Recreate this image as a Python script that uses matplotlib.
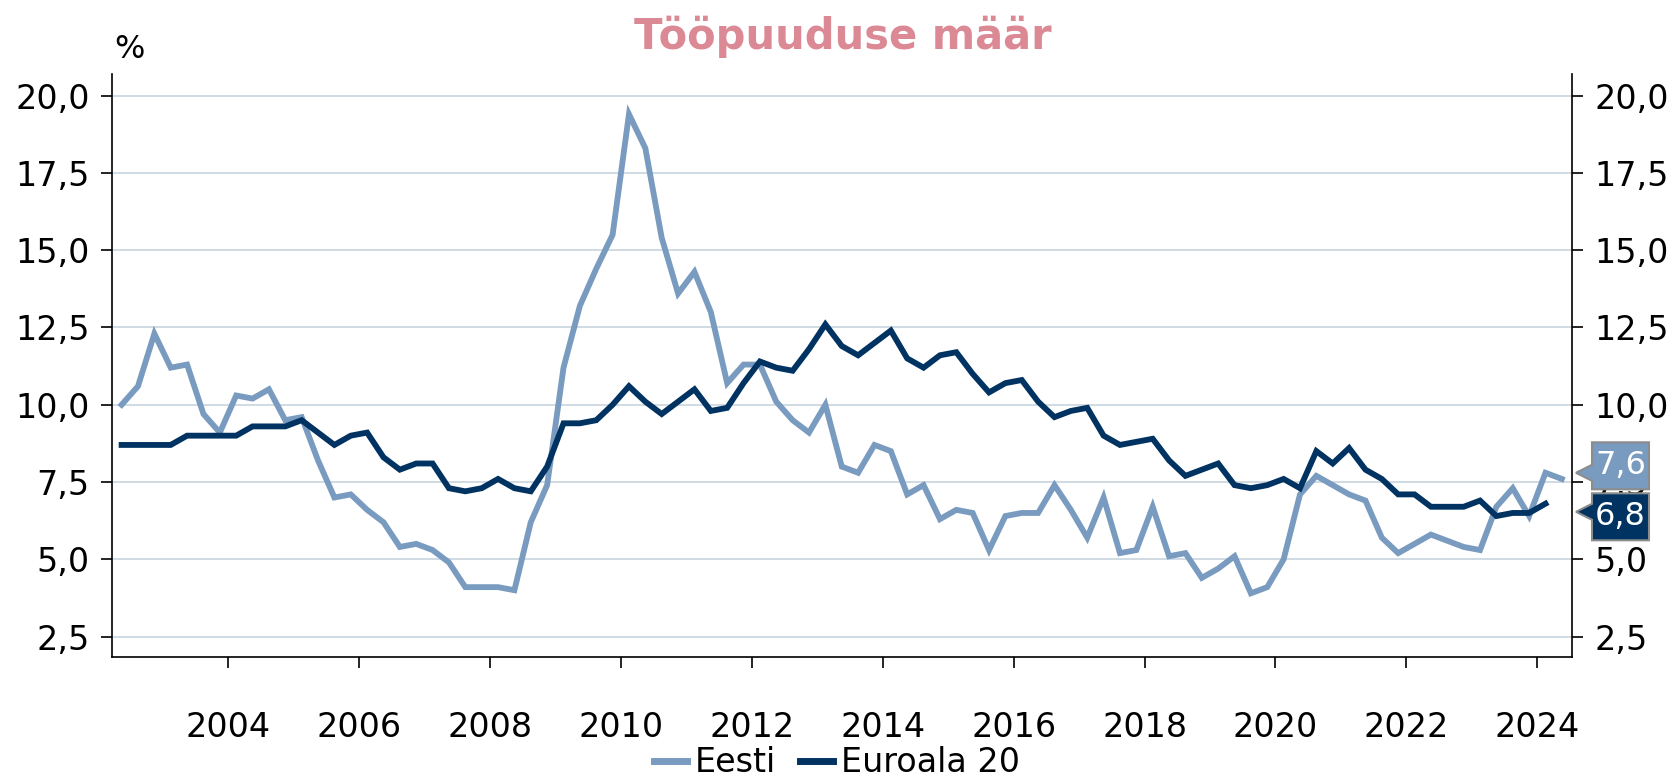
import matplotlib
matplotlib.use("Agg")
import matplotlib.pyplot as plt
from matplotlib.patches import Polygon
import numpy as np

# ---- data (quarterly, 2002Q2 .. 2024Q2) ----
eesti = [10.0, 10.6, 12.3,
         11.2, 11.3, 9.7, 9.1,
         10.3, 10.2, 10.5, 9.5,
         9.6, 8.2, 7.0, 7.1,
         6.6, 6.2, 5.4, 5.5,
         5.3, 4.9, 4.1, 4.1,
         4.1, 4.0, 6.2, 7.4,
         11.2, 13.2, 14.4, 15.5,
         19.4, 18.3, 15.4, 13.6,
         14.3, 13.0, 10.7, 11.3,
         11.3, 10.1, 9.5, 9.1,
         10.0, 8.0, 7.8, 8.7,
         8.5, 7.1, 7.4, 6.3,
         6.6, 6.5, 5.3, 6.4,
         6.5, 6.5, 7.4, 6.6,
         5.7, 7.0, 5.2, 5.3,
         6.7, 5.1, 5.2, 4.4,
         4.7, 5.1, 3.9, 4.1,
         5.0, 7.1, 7.7, 7.4,
         7.1, 6.9, 5.7, 5.2,
         5.5, 5.8, 5.6, 5.4,
         5.3, 6.7, 7.3, 6.4,
         7.8, 7.6]
euro = [8.7, 8.7, 8.7,
        8.7, 9.0, 9.0, 9.0,
        9.0, 9.3, 9.3, 9.3,
        9.5, 9.1, 8.7, 9.0,
        9.1, 8.3, 7.9, 8.1,
        8.1, 7.3, 7.2, 7.3,
        7.6, 7.3, 7.2, 8.0,
        9.4, 9.4, 9.5, 10.0,
        10.6, 10.1, 9.7, 10.1,
        10.5, 9.8, 9.9, 10.7,
        11.4, 11.2, 11.1, 11.8,
        12.6, 11.9, 11.6, 12.0,
        12.4, 11.5, 11.2, 11.6,
        11.7, 11.0, 10.4, 10.7,
        10.8, 10.1, 9.6, 9.8,
        9.9, 9.0, 8.7, 8.8,
        8.9, 8.2, 7.7, 7.9,
        8.1, 7.4, 7.3, 7.4,
        7.6, 7.3, 8.5, 8.1,
        8.6, 7.9, 7.6, 7.1,
        7.1, 6.7, 6.7, 6.7,
        6.9, 6.4, 6.5, 6.5,
        6.8]
start_year, start_q = 2002, 2
series_names = ["Eesti", "Euroala 20"]
year_ticks = list(range(2004, 2025, 2))
y_ticks = [2.5, 5.0, 7.5, 10.0, 12.5, 15.0, 17.5, 20.0]
title = "Tööpuuduse määr"

def qx(n):
    return [start_year + (start_q - 1 + i) / 4 + 0.125 for i in range(n)]

c_ee = "#7A9BC0"
c_eu = "#003262"

W, H = 1674, 777
fig = plt.figure(figsize=(W / 100, H / 100), dpi=100)
ax = fig.add_axes([112 / W, 1 - 657 / H, (1572 - 112) / W, (657 - 74) / H])

ax.plot(qx(len(eesti)), eesti, color=c_ee, lw=4.2, label=series_names[0], zorder=3,
        solid_joinstyle="miter")
ax.plot(qx(len(euro)), euro, color=c_eu, lw=4.2, label=series_names[1], zorder=4,
        solid_joinstyle="miter")

ax.set_xlim(2002.228, 2024.53)
ax.set_ylim(1.84, 20.70)
ax.set_xticks(year_ticks)
ax.set_xticklabels([str(y) for y in year_ticks])
ax.set_yticks(y_ticks)
ax.set_yticklabels([f"{v:.1f}".replace(".", ",") for v in y_ticks])
ax.grid(axis="y", color="#CBD8E0", lw=1.3, zorder=0)
ax.set_axisbelow(True)
for s in ["left", "right", "bottom"]:
    ax.spines[s].set_linewidth(1.2)
ax.spines["top"].set_visible(False)
ax.tick_params(axis="y", which="both", direction="out", length=8, width=1.2,
               labelsize=24, left=True, right=True, labelleft=True, labelright=True, pad=8)
ax.tick_params(axis="x", direction="out", length=8, width=1.2, labelsize=24, pad=31)

fig.text(0.5035, 1 - 37 / H, title, ha="center", va="center", fontsize=30,
         fontweight="bold", color="#DB8A95")
fig.text(114 / W, 1 - 50 / H, "%", ha="left", va="center", fontsize=23)

leg = fig.legend(loc="center", bbox_to_anchor=(0.5, 1 - 763 / H), ncol=2, frameon=False,
                 fontsize=24, handlelength=1.0, handletextpad=0.25, columnspacing=0.7,
                 borderpad=0)
for h in leg.get_lines():
    h.set_linewidth(5)

# end-value callouts
to_fig = ax.transData + fig.transFigure.inverted()
x_end = ax.get_xlim()[1]
p_ee = to_fig.transform((x_end, eesti[-1]))
p_eu = to_fig.transform((x_end, euro[-1]))
mid = (p_ee[1] + p_eu[1]) / 2
bh = 47 / H
gap = 4 / H
bx0 = 1592 / W
bx1 = 1649 / W
tipx = 1576 / W
for val, col, ctr, tipdy in [(eesti[-1], c_ee, mid + (bh + gap) / 2, -7 / H),
                             (euro[-1], c_eu, mid - (bh + gap) / 2, 5 / H)]:
    y0, y1 = ctr - bh / 2, ctr + bh / 2
    ty = ctr + tipdy
    pts = [(bx0, y1), (bx1, y1), (bx1, y0), (bx0, y0), (bx0, ty - 8 / H),
           (tipx, ty), (bx0, ty + 8 / H)]
    fig.add_artist(Polygon(pts, closed=True, transform=fig.transFigure,
                           facecolor=col, edgecolor="#8C8C8C", lw=1.5, zorder=10))
    fig.text((bx0 + bx1) / 2, ctr, f"{val:.1f}".replace(".", ","), ha="center", va="center",
             color="white", fontsize=23, zorder=11)

fig.savefig("out.png", dpi=100)
